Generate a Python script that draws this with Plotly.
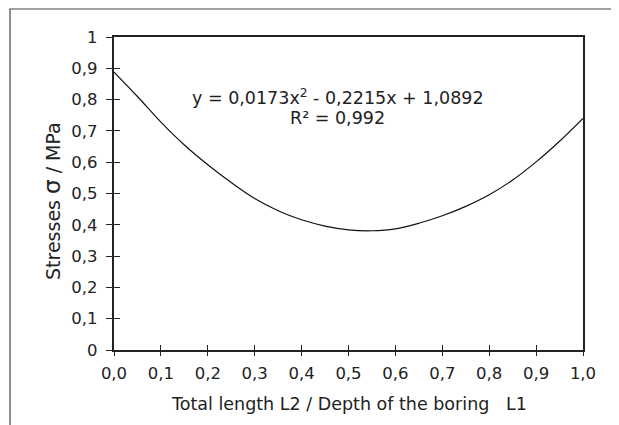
import plotly.graph_objects as go

# Data
x_ratio = [0.0, 0.05, 0.1, 0.15, 0.2, 0.25, 0.3, 0.35, 0.4, 0.45, 0.5,
           0.55, 0.6, 0.65, 0.7, 0.75, 0.8, 0.85, 0.9, 0.95, 1.0]
stress = [0.888, 0.810, 0.728, 0.655, 0.592, 0.535, 0.484, 0.445, 0.416, 0.396, 0.384,
          0.381, 0.387, 0.405, 0.429, 0.459, 0.496, 0.543, 0.601, 0.667, 0.740]

x_tickvals = [0.0, 0.1, 0.2, 0.3, 0.4, 0.5, 0.6, 0.7, 0.8, 0.9, 1.0]
x_ticktext = ["0,0", "0,1", "0,2", "0,3", "0,4", "0,5", "0,6", "0,7", "0,8", "0,9", "1,0"]
y_tickvals = [0.0, 0.1, 0.2, 0.3, 0.4, 0.5, 0.6, 0.7, 0.8, 0.9, 1.0]
y_ticktext = ["0", "0,1", "0,2", "0,3", "0,4", "0,5", "0,6", "0,7", "0,8", "0,9", "1"]

eq_line1 = "y = 0,0173x<sup>2</sup> - 0,2215x + 1,0892"
eq_line2 = "R² = 0,992"
x_title = "Total length L2 / Depth of the boring   L1"
y_title = "Stresses <span style='font-size:23px'>σ</span> / MPa"

FONT = "DejaVu Sans, Verdana, sans-serif"
TXT = "#222222"

fig = go.Figure()
fig.add_trace(go.Scatter(x=x_ratio, y=stress, mode="lines",
                         line=dict(color="#111111", width=1.2, shape="spline", smoothing=1.0),
                         showlegend=False, hoverinfo="skip"))
# invisible copy on overlay axes (for the inner halves of the crossing ticks)
fig.add_trace(go.Scatter(x=x_ratio, y=stress, mode="lines", xaxis="x2", yaxis="y2",
                         line=dict(color="rgba(0,0,0,0)", width=0),
                         showlegend=False, hoverinfo="skip"))

W, H = 619, 425
OFF = 8  # page body margin: figure is drawn a few px right/down in the screenshot
# wanted plot box in screenshot pixels
PL, PR, PT, PB = 114, 583, 37, 350
L, T = PL - OFF, PT - OFF
R, B = W - (PR - OFF), H - (PB - OFF)

axis_common = dict(range=[0, 1], showgrid=False, zeroline=False)
fig.update_layout(
    width=W, height=H,
    margin=dict(l=L, r=R, t=T, b=B),
    paper_bgcolor="white", plot_bgcolor="white",
    font=dict(family=FONT, size=16.5, color=TXT),
    xaxis=dict(**axis_common, tickvals=x_tickvals, ticktext=x_ticktext,
               ticks="outside", ticklen=4, tickwidth=1.2, tickcolor="#222",
               showline=True, linecolor="#222", linewidth=2, mirror=True,
               ticklabelstandoff=3,
               tickfont=dict(family=FONT, size=16.5, color=TXT)),
    yaxis=dict(**axis_common, tickvals=y_tickvals, ticktext=y_ticktext,
               ticks="outside", ticklen=6, tickwidth=1.2, tickcolor="#222",
               showline=True, linecolor="#222", linewidth=2.2, mirror=True,
               ticklabelstandoff=5,
               tickfont=dict(family=FONT, size=16.5, color=TXT)),
    xaxis2=dict(**axis_common, overlaying="x", anchor="y2", tickvals=x_tickvals,
                showticklabels=False, ticks="inside", ticklen=5, tickwidth=1.2,
                tickcolor="#222", showline=False),
    yaxis2=dict(**axis_common, overlaying="y", anchor="x2", tickvals=y_tickvals,
                showticklabels=False, ticks="inside", ticklen=6, tickwidth=1.2,
                tickcolor="#222", showline=False),
)

pw = PR - PL
ph = PB - PT
def sx(px):  # screenshot px -> paper x
    return (px - PL) / pw
def sy(py):  # screenshot px -> paper y
    return (PB - py) / ph

def note(text, x, y, size, angle=0):
    fig.add_annotation(text=text, x=sx(x), y=sy(y), xref="paper", yref="paper",
                       xanchor="center", yanchor="middle", showarrow=False,
                       textangle=angle, font=dict(family=FONT, size=size, color=TXT))

note(eq_line1, 338, 97, 17.5)
note(eq_line2, 337, 118, 17.5)
note(y_title, 52, 201, 19, angle=-90)
note(x_title, 348.5, 404, 17.5)

# outer frame (right and bottom edges fall outside the picture)
fig.add_shape(type="rect", xref="paper", yref="paper",
              x0=sx(10), y0=sy(450), x1=sx(650), y1=sy(9),
              line=dict(color="#444444", width=1.2), layer="below")

fig.write_html("out.html")
